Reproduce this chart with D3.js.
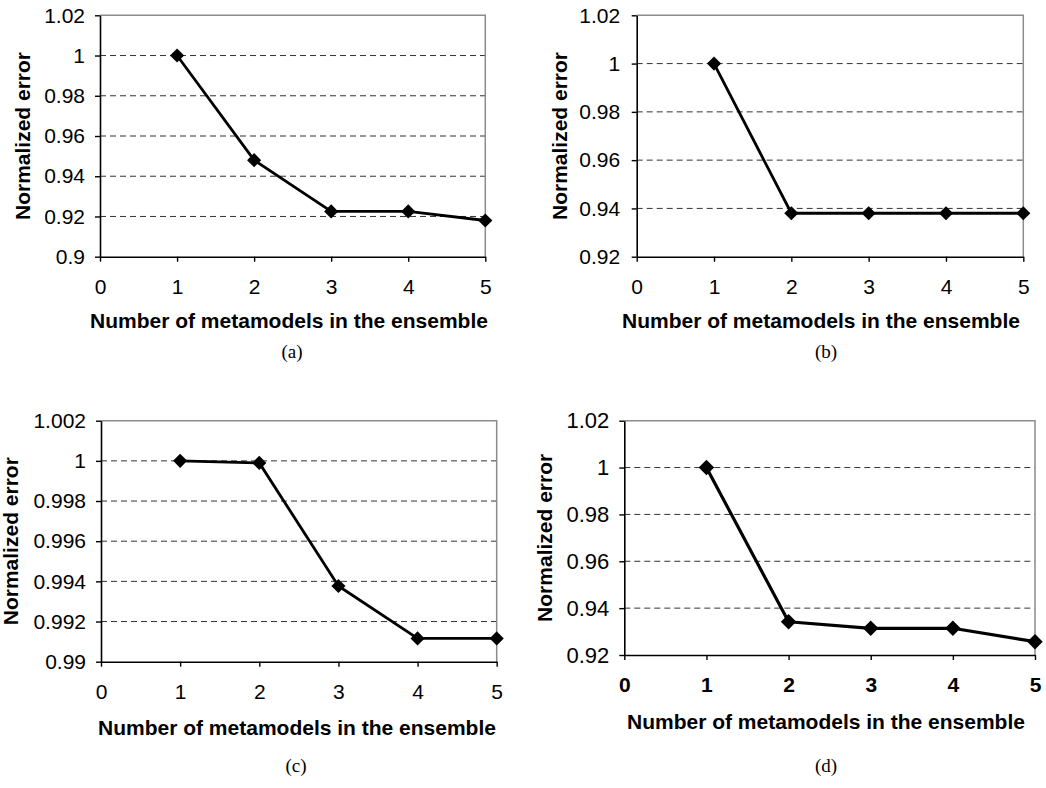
<!DOCTYPE html>
<html>
<head>
<meta charset="utf-8">
<script src="https://cdn.jsdelivr.net/npm/d3@7"></script>
<style>
  body { margin: 0; background: #fff; }
  svg { display: block; }
</style>
</head>
<body>
<div id="figure"></div>
<script>
// ensemble sizes (x) and axis ticks
var ensembleSizes = [1, 2, 3, 4, 5];
var xTickValues = [0, 1, 2, 3, 4, 5];

// normalized error, one array per panel
var errorA = [1, 0.948, 0.9225, 0.9225, 0.918];
var errorB = [1, 0.938, 0.938, 0.938, 0.938];
var errorC = [1, 0.9999, 0.99377, 0.99116, 0.99116];
var errorD = [1, 0.9342, 0.9314, 0.9314, 0.9257];

// y tick values per panel
var yTicksA = [0.9, 0.92, 0.94, 0.96, 0.98, 1, 1.02];
var yTicksB = [0.92, 0.94, 0.96, 0.98, 1, 1.02];
var yTicksC = [0.99, 0.992, 0.994, 0.996, 0.998, 1, 1.002];
var yTicksD = [0.92, 0.94, 0.96, 0.98, 1, 1.02];

var captions = ['(a)', '(b)', '(c)', '(d)'];
var xTitle = 'Number of metamodels in the ensemble';
var yTitle = 'Normalized error';

var sans = "'Liberation Sans', Arial, Helvetica, sans-serif";
var serif = "'Liberation Serif', 'Times New Roman', serif";

var svg = d3.select('#figure').append('svg')
    .attr('width', 1046)
    .attr('height', 788);

svg.append('rect')
    .attr('width', 1046)
    .attr('height', 788)
    .attr('fill', '#fff');

/**
 * ErrorPanel - one small line chart of the figure
 *
 * @param _svg     -- parent svg selection
 * @param _values  -- normalized error for each ensemble size
 * @param _yTicks  -- tick values for the y axis (first/last give domain)
 * @param _caption -- caption below the chart
 * @param _layout  -- plot box, label offsets and stroke weights
 */
ErrorPanel = function(_svg, _values, _yTicks, _caption, _layout) {
  this.svg = _svg;
  this.data = ensembleSizes.map((n, i) => ({n: n, err: _values[i]}));
  this.yTicks = _yTicks;
  this.caption = _caption;
  this.layout = _layout;

  this.initVis();
};

ErrorPanel.prototype.initVis = function() {
  var vis = this;
  var L = vis.layout;

  vis.width = L.right - L.left;
  vis.height = L.bottom - L.top;

  vis.g = vis.svg.append('g')
      .attr('transform', 'translate(' + L.left + ',' + L.top + ')');

  vis.x = d3.scaleLinear()
      .domain(d3.extent(xTickValues))
      .range([0, vis.width]);
  vis.y = d3.scaleLinear()
      .domain(d3.extent(vis.yTicks))
      .range([vis.height, 0]);

  // dashed grid (not on the bottom/top edges)
  vis.g.append('g').attr('class', 'grid')
      .selectAll('line')
      .data(vis.yTicks.slice(1, -1))
      .enter()
      .append('line')
        .attr('x1', 0)
        .attr('x2', vis.width)
        .attr('y1', d => vis.y(d))
        .attr('y2', d => vis.y(d))
        .attr('stroke', '#333')
        .attr('stroke-width', 1)
        .attr('stroke-dasharray', '6,4');

  // grey frame on top and right
  vis.g.append('path')
      .attr('d', 'M0,0H' + vis.width + 'V' + vis.height)
      .attr('fill', 'none')
      .attr('stroke', '#8c8c8c')
      .attr('stroke-width', 1.5);

  var fmt = d => String(+d.toFixed(3));

  vis.yAxis = d3.axisLeft(vis.y)
      .tickValues(vis.yTicks)
      .tickSize(5)
      .tickSizeOuter(0)
      .tickPadding(L.yPad)
      .tickFormat(fmt);
  vis.gY = vis.g.append('g').attr('class', 'y axis').call(vis.yAxis);

  vis.xAxis = d3.axisBottom(vis.x)
      .tickValues(xTickValues)
      .tickSize(5)
      .tickSizeOuter(0)
      .tickPadding(17)
      .tickFormat(d3.format('d'));
  vis.gX = vis.g.append('g').attr('class', 'x axis')
      .attr('transform', 'translate(0,' + vis.height + ')')
      .call(vis.xAxis);

  [vis.gY, vis.gX].forEach(a => {
    a.select('.domain').attr('stroke', '#000').attr('stroke-width', 1.6);
    a.selectAll('.tick line').attr('stroke', '#000').attr('stroke-width', 1.4);
    a.selectAll('.tick text')
        .attr('fill', '#000')
        .style('font-family', sans);
  });
  vis.gY.selectAll('.tick text')
      .style('font-size', L.yFont + 'px');
  vis.gX.selectAll('.tick text')
      .style('font-size', L.xFont + 'px')
      .style('font-weight', L.xBold ? 'bold' : 'normal');

  // series line and diamond markers
  vis.line = d3.line()
      .x(d => vis.x(d.n))
      .y(d => vis.y(d.err));

  vis.g.append('path')
      .datum(vis.data)
      .attr('d', vis.line)
      .attr('fill', 'none')
      .attr('stroke', '#000')
      .attr('stroke-width', L.lineWidth)
      .attr('stroke-linejoin', 'round');

  vis.g.append('g').attr('class', 'markers')
      .selectAll('path')
      .data(vis.data)
      .enter()
      .append('path')
        .attr('d', d3.symbol(d3.symbolSquare, L.markerArea))
        .attr('transform', d => 'translate(' + vis.x(d.n) + ',' + vis.y(d.err) + ') rotate(45)')
        .attr('fill', '#000');

  // axis titles
  vis.svg.append('text')
      .attr('transform', 'translate(' + L.yTitleX + ',' + (L.top + vis.height / 2) + ') rotate(-90)')
      .attr('text-anchor', 'middle')
      .style('font-family', sans)
      .style('font-weight', 'bold')
      .style('font-size', '21px')
      .text(yTitle);

  vis.svg.append('text')
      .attr('x', L.xTitleX)
      .attr('y', L.xTitleY)
      .attr('text-anchor', 'middle')
      .style('font-family', sans)
      .style('font-weight', 'bold')
      .style('font-size', L.xTitleFont + 'px')
      .text(xTitle);

  vis.svg.append('text')
      .attr('x', L.captionX)
      .attr('y', L.captionY)
      .attr('text-anchor', 'middle')
      .style('font-family', serif)
      .style('font-size', '19px')
      .text(vis.caption);
};

var panelA = new ErrorPanel(svg, errorA, yTicksA, captions[0], {
  left: 100, top: 15.3, right: 485.3, bottom: 256.7,
  yPad: 10, yFont: 21, xFont: 21, xBold: false,
  lineWidth: 2.8, markerArea: 100,
  yTitleX: 30, xTitleX: 289, xTitleY: 328, xTitleFont: 21,
  captionX: 292, captionY: 358
});

var panelB = new ErrorPanel(svg, errorB, yTicksB, captions[1], {
  left: 636.7, top: 15.3, right: 1023.3, bottom: 256.7,
  yPad: 11.5, yFont: 21, xFont: 21, xBold: false,
  lineWidth: 2.8, markerArea: 100,
  yTitleX: 567, xTitleX: 821, xTitleY: 328, xTitleFont: 21,
  captionX: 826, captionY: 358
});

var panelC = new ErrorPanel(svg, errorC, yTicksC, captions[2], {
  left: 101, top: 420.7, right: 496.7, bottom: 661.7,
  yPad: 10, yFont: 21, xFont: 21, xBold: false,
  lineWidth: 2.8, markerArea: 100,
  yTitleX: 18, xTitleX: 297, xTitleY: 735, xTitleFont: 21,
  captionX: 296, captionY: 772
});

var panelD = new ErrorPanel(svg, errorD, yTicksD, captions[3], {
  left: 624.3, top: 420.7, right: 1035, bottom: 655,
  yPad: 10, yFont: 22, xFont: 21, xBold: true,
  lineWidth: 3.2, markerArea: 120,
  yTitleX: 552, xTitleX: 826, xTitleY: 729, xTitleFont: 21,
  captionX: 826, captionY: 772
});
</script>
</body>
</html>
